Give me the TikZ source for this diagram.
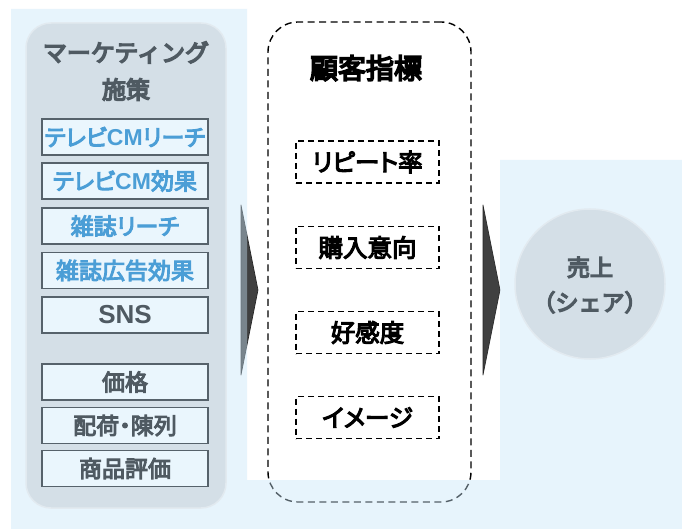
\documentclass[tikz,border=0pt]{standalone}
\usepackage{fontspec}
\newfontfamily\jhv{Noto Sans CJK JP}[FakeBold=6, RawFeature=+kern]
\newfontfamily\jhvp{Noto Sans CJK JP}[FakeBold=4.5, RawFeature=+palt]
\newfontfamily\lat{Liberation Sans}
\definecolor{panelblue}{RGB}{200,229,248}
\definecolor{panelgray}{RGB}{212,223,231}
\definecolor{panelrim}{RGB}{226,234,240}
\definecolor{boxfill}{RGB}{234,246,253}
\definecolor{boxline}{RGB}{86,98,107}
\definecolor{txtgray}{RGB}{79,90,98}
\definecolor{txtblue}{RGB}{75,158,214}
\definecolor{arrowdark}{RGB}{64,64,64}
\newcommand{\LatCM}{{\lat\bfseries CM}}
\begin{document}
\begin{tikzpicture}[x=1pt,y=-1pt,
  mbox/.style={draw=boxline, line width=1.4pt, fill=boxfill, minimum width=166pt, minimum height=36pt, inner sep=0pt, font=\jhvp\fontsize{23}{24}\selectfont},
  bluetxt/.style={text=txtblue},
  graytxt/.style={text=txtgray},
  kbox/.style={draw=black, line width=1.4pt, dash pattern=on 6pt off 4pt, minimum width=143pt, minimum height=42pt, inner sep=0pt, font=\jhvp\fontsize{24.5}{26}\selectfont},
  chev/.style={fill=arrowdark, draw=black!85, line width=0.6pt, line join=round}]
\useasboundingbox (0,0) rectangle (682,529);
\fill[white] (0,0) rectangle (682,529);
% arrows
\draw[chev] (241,205) coordinate (la1) -- (258,290) coordinate (la2) -- (241,375) coordinate (la3) -- cycle;
\draw[chev] (483,205) coordinate (ra1) -- (500,290) coordinate (ra2) -- (483,375) coordinate (ra3) -- cycle;
% dashed outer box
\node[draw=black, line width=1.4pt, dash pattern=on 7pt off 4.5pt, rounded corners=30pt, minimum width=203pt, minimum height=480pt, inner sep=0pt] (kpi) at (369.5,262) {};
% translucent light-blue background
\fill[panelblue, fill opacity=0.42] (11,9) -- (247,9) -- (247,480) -- (500,480) -- (500,160) -- (682,160) -- (682,529) -- (11,529) -- cycle;
% left gray panel
\node[fill=panelgray, draw=panelrim, line width=1.5pt, rounded corners=25pt, minimum width=200pt, minimum height=485pt, inner sep=0pt] (mk) at (126,265.5) {};
\node[graytxt, font=\jhv\fontsize{24}{37}\selectfont, align=center] (mktitle) at (126,71) {マーケティング\\施策};
\node[mbox, bluetxt] (b1) at (125,137) {テレビ\LatCM リーチ};
\node[mbox, bluetxt] (b2) at (125,181) {テレビ\LatCM 効果};
\node[mbox, bluetxt] (b3) at (125,226) {雑誌リーチ};
\node[mbox, bluetxt] (b4) at (125,270.5) {雑誌広告効果};
\node[mbox, graytxt, font=\lat\bfseries\fontsize{26}{28}\selectfont] (b5) at (125,315) {SNS};
\node[mbox, graytxt] (b6) at (125,382) {価格};
\node[mbox, graytxt] (b7) at (125,425.5) {配荷・陳列};
\node[mbox, graytxt] (b8) at (125,468.5) {商品評価};
% middle
\node[font=\jhv\fontsize{28}{30}\selectfont] (kt) at (366,68) {顧客指標};
\node[kbox] (k1) at (367.5,162) {リピート率};
\node[kbox] (k2) at (367.5,247.5) {購入意向};
\node[kbox] (k3) at (367.5,332.5) {好感度};
\node[kbox] (k4) at (367.5,417.5) {イメージ};
% right circle
\node[circle, fill=panelgray, draw=panelrim, line width=1.5pt, minimum size=150pt, inner sep=0pt] (sales) at (590,284) {};
\node[graytxt, font=\jhv\fontsize{23}{35}\selectfont, align=center] (salest) at (590,285) {売上\\（シェア）};
\end{tikzpicture}
\end{document}
